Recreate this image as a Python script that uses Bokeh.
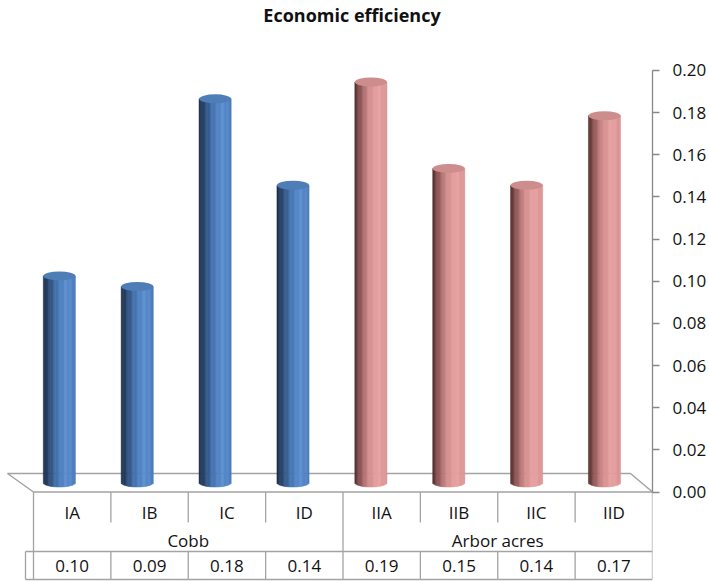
import math
from bokeh.plotting import figure
from bokeh.models import (Range1d, LinearAxis, FixedTicker, NumeralTickFormatter,
                          ColumnDataSource, Label)
from bokeh.core.properties import value
from bokeh.embed import file_html
from bokeh.resources import INLINE

# ---------------- data ----------------
categories = ["IA", "IB", "IC", "ID", "IIA", "IIB", "IIC", "IID"]
efficiency = [0.098, 0.093, 0.182, 0.141, 0.190, 0.149, 0.141, 0.174]
groups = ["Cobb", "Arbor acres"]
group_sizes = [4, 4]
y_ticks = [0.00, 0.02, 0.04, 0.06, 0.08, 0.10, 0.12, 0.14, 0.16, 0.18, 0.20]
title_text = "Economic efficiency"

# ---------------- layout helpers (canvas pixel -> data) ----------------
PX_PER_X = 77.375      # pixels per category cell
PX_PER_Y = 2108.0      # pixels per value unit
X0_PX = 33.0           # x of category 0 left edge
Y0_PX = 491.5          # y of value 0
FRAME_L, FRAME_R, FRAME_T, FRAME_B = 0, 652, 0, 581
FIG_W, FIG_H = 709, 581


def X(px):
    return (px - X0_PX) / PX_PER_X


def Y(py):
    return (Y0_PX - py) / PX_PER_Y


FONT = "Open Sans"
GRID_COL = "#a3a3a3"

p = figure(frame_width=FRAME_R - FRAME_L, frame_height=FRAME_B - FRAME_T,
           x_range=Range1d(X(FRAME_L), X(FRAME_R)), y_range=Range1d(Y(FRAME_B), Y(FRAME_T)),
           output_backend="svg", toolbar_location=None,
           x_axis_location=None, y_axis_location=None,
           min_border_left=0, min_border_right=FIG_W - (FRAME_R - FRAME_L),
           min_border_top=0, min_border_bottom=0,
           outline_line_color=None, background_fill_color="white",
           border_fill_color="white")
p.grid.visible = False

n = len(categories)

# ---------------- floor ----------------
p.patch([X(7), X(630), X(FRAME_R), X(33)], [Y(473), Y(473), Y(Y0_PX), Y(Y0_PX)],
        fill_color="white", line_color=GRID_COL, line_width=1.5)

# ---------------- cylinders ----------------
blue_grad = [(0.0, "#1a2a42"), (0.15, "#28446c"), (0.42, "#4272ad"),
             (0.72, "#5a8ed0"), (1.0, "#4b7dbc")]
pink_grad = [(0.0, "#4e2d2d"), (0.15, "#874f4f"), (0.42, "#cf8989"),
             (0.72, "#e8a1a1"), (1.0, "#d99393")]
top_cols = ["#4e7db8", "#cd8d8d"]


def hex2rgb(h):
    return tuple(int(h[i:i + 2], 16) for i in (1, 3, 5))


def interp(stops, t):
    for (t0, c0), (t1, c1) in zip(stops[:-1], stops[1:]):
        if t0 <= t <= t1:
            f = (t - t0) / (t1 - t0)
            a, b = hex2rgb(c0), hex2rgb(c1)
            return "#%02x%02x%02x" % tuple(int(round(a[j] + (b[j] - a[j]) * f)) for j in range(3))
    return stops[-1][1]


group_index = []
for gi, gs in enumerate(group_sizes):
    group_index += [gi] * gs

bw = 32.0 / PX_PER_X
base = Y(482)
eh = 4.5 / PX_PER_Y
N = 26
sx, sb, st, sc = [], [], [], []
cx_list, ctop, ccol = [], [], []
for i, v in enumerate(efficiency):
    cx = i + 0.5 + (-12.8 + 0.5 * i) / PX_PER_X
    grad = blue_grad if group_index[i] == 0 else pink_grad
    for k in range(N):
        u = (k + 0.5) / N
        tt = 2 * u - 1
        sx.append(cx - bw / 2 + u * bw)
        sb.append(base - eh * math.sqrt(max(0.0, 1 - tt * tt)))
        st.append(v + base)
        sc.append(interp(grad, u))
    cx_list.append(cx)
    ctop.append(v + base)
    ccol.append(top_cols[group_index[i]])

p.vbar(x="x", width=bw / N * 1.1, bottom="b", top="t", fill_color="c",
       line_color="c", line_width=0.5,
       source=ColumnDataSource(dict(x=sx, b=sb, t=st, c=sc)))
p.ellipse(x=cx_list, y=ctop, width=bw, height=9, height_units="screen",
          fill_color=ccol, line_color=None)

# ---------------- data table ----------------
ROW_CAT_END, ROW_VAL_TOP, ROW_VAL_BOT = 522, 551, 579
x0s, y0s, x1s, y1s = [], [], [], []
bounds = [0]
for gs in group_sizes:
    bounds.append(bounds[-1] + gs)
for b in bounds:
    x0s.append(b); x1s.append(b); y0s.append(Y(Y0_PX)); y1s.append(Y(ROW_VAL_BOT))
for b in range(1, n):
    if b in bounds:
        continue
    x0s += [b, b]; x1s += [b, b]
    y0s += [Y(Y0_PX), Y(ROW_VAL_TOP)]; y1s += [Y(ROW_CAT_END), Y(ROW_VAL_BOT)]
# values row box
x0s += [X(25), X(25), X(25)]
x1s += [n, n, X(25)]
y0s += [Y(ROW_VAL_TOP), Y(ROW_VAL_BOT), Y(ROW_VAL_TOP)]
y1s += [Y(ROW_VAL_TOP), Y(ROW_VAL_BOT), Y(ROW_VAL_BOT)]
p.segment(x0=x0s, y0=y0s, x1=x1s, y1=y1s, line_color=GRID_COL, line_width=1.3)

text_kw = dict(text_align="center", text_baseline="middle", text_font=value(FONT),
               text_font_size="17px", text_color="#111111")
p.text(x=[i + 0.5 for i in range(n)], y=[Y(512)] * n, text=categories, **text_kw)
gx = [(bounds[j] + bounds[j + 1]) / 2 for j in range(len(groups))]
p.text(x=gx, y=[Y(540)] * len(groups), text=groups, **text_kw)
p.text(x=[i + 0.5 for i in range(n)], y=[Y(565)] * n,
       text=["%.2f" % v for v in efficiency], **text_kw)

# ---------------- value axis ----------------
ax = LinearAxis(ticker=FixedTicker(ticks=y_ticks),
                formatter=NumeralTickFormatter(format="0.00"),
                bounds=(y_ticks[0], y_ticks[-1]))
ax.axis_line_color = "#888888"
ax.axis_line_width = 1.3
ax.major_tick_line_color = "#888888"
ax.major_tick_line_width = 1.3
ax.major_tick_out = 7
ax.major_tick_in = 0
ax.minor_tick_out = 0
ax.minor_tick_in = 0
ax.major_label_standoff = 13
ax.major_label_text_font = FONT
ax.major_label_text_font_size = "17px"
ax.major_label_text_color = "#111111"
p.add_layout(ax, "right")

# ---------------- title ----------------
p.add_layout(Label(x=X(351.5), y=Y(14), text=title_text, text_align="center",
                   text_baseline="alphabetic", text_font=FONT, text_font_size="18px",
                   text_font_style="bold", text_color="#111111"))

open("out.html", "w").write(file_html(p, INLINE))
